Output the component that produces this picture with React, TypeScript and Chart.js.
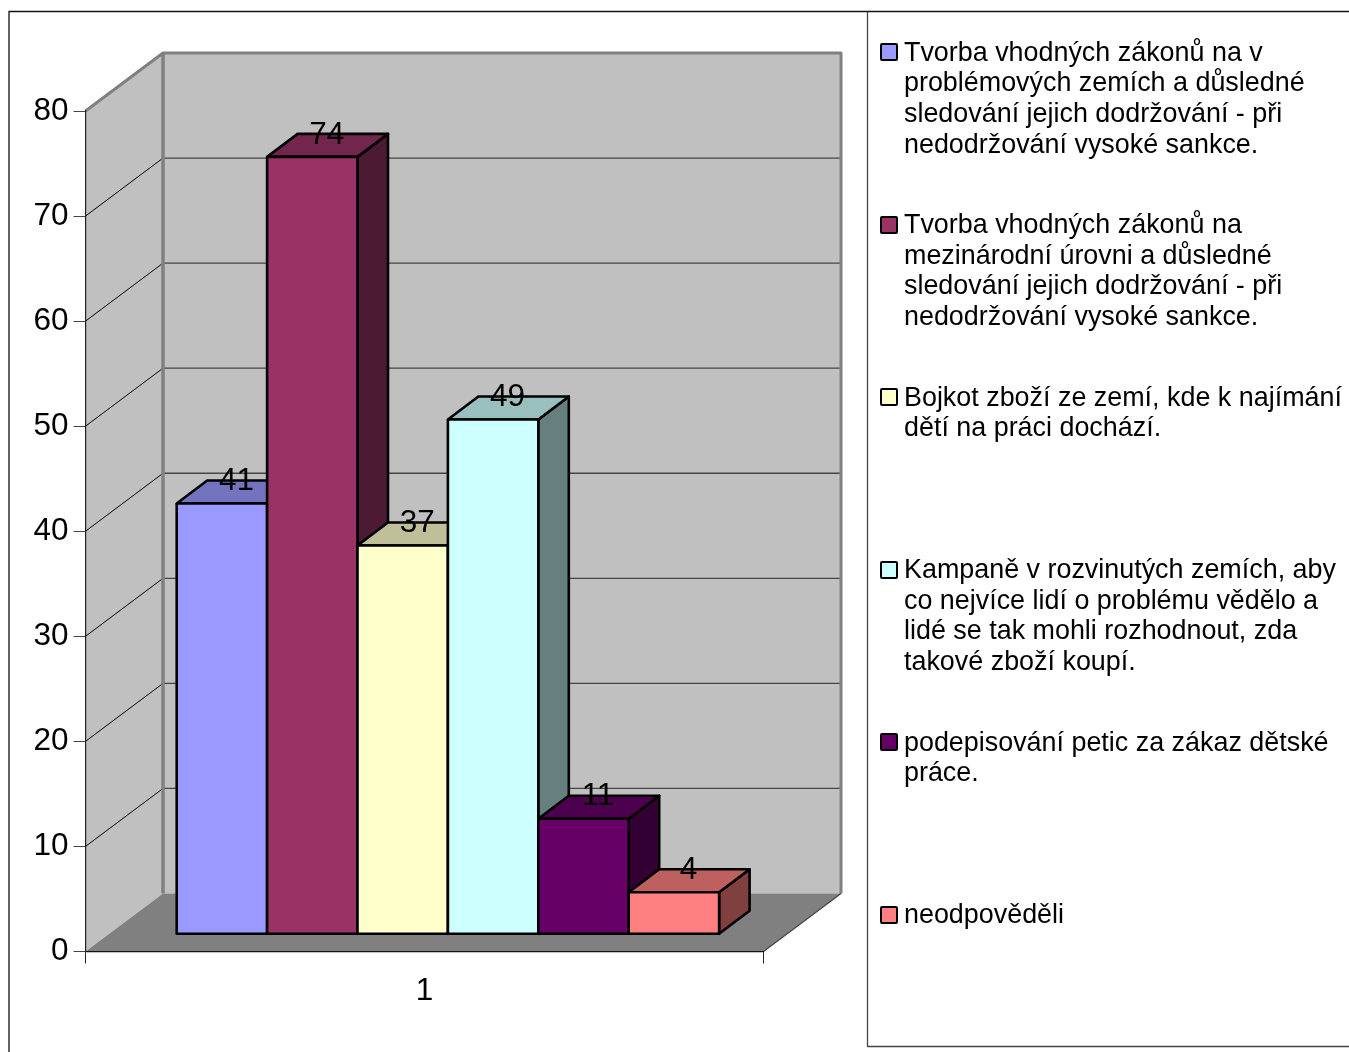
import React, { useEffect, useRef } from "react";
import { Chart, registerables } from "chart.js";

Chart.register(...registerables);

const categories = ["1"];
const seriesLines: string[][] = [
  ["Tvorba vhodných zákonů na v", "problémových zemích a důsledné", "sledování jejich dodržování - při", "nedodržování vysoké sankce."],
  ["Tvorba vhodných zákonů na", "mezinárodní úrovni a důsledné", "sledování jejich dodržování - při", "nedodržování vysoké sankce."],
  ["Bojkot zboží ze zemí, kde k najímání", "dětí na práci dochází."],
  ["Kampaně v rozvinutých zemích, aby", "co nejvíce lidí o problému vědělo a", "lidé se tak mohli rozhodnout, zda", "takové zboží koupí."],
  ["podepisování petic za zákaz dětské", "práce."],
  ["neodpověděli"],
];
const seriesValues = [41, 74, 37, 49, 11, 4];
const frontColors = ["#9999ff", "#993366", "#ffffcc", "#ccffff", "#660066", "#ff8080"];
const topColors = ["#7373bf", "#73264d", "#bfbf99", "#99bfbf", "#4d004d", "#bf6060"];
const sideColors = ["#4d4d80", "#4d1a33", "#808066", "#668080", "#330033", "#804040"];

const FONT = "'Liberation Sans', Arial, sans-serif";
const WALL = { dx: 77.5, dy: -58 };
const BAR_SHIFT = { dx: 23.4, dy: -17.2 };
const BAR_DEPTH = { dx: 30.5, dy: -23 };

const poly = (ctx: CanvasRenderingContext2D, pts: number[][], fill: string | null, stroke: string | null, lw = 1) => {
  ctx.beginPath();
  pts.forEach((p, i) => (i ? ctx.lineTo(p[0], p[1]) : ctx.moveTo(p[0], p[1])));
  if (fill) {
    ctx.closePath();
    ctx.fillStyle = fill;
    ctx.fill();
  }
  if (stroke) {
    ctx.strokeStyle = stroke;
    ctx.lineWidth = lw;
    ctx.lineJoin = "round";
    ctx.stroke();
  }
};

const framePlugin = {
  id: "frame3d",
  beforeDraw(chart: any) {
    const { ctx, scales } = chart;
    const y = scales.y;
    const x = scales.x;
    const l = x.left, r = x.right, b = y.getPixelForValue(0), t = y.getPixelForValue(80);
    const { dx, dy } = WALL;
    ctx.save();
    // outer frame
    poly(ctx, [[9, 1052], [9, 11.5], [1349, 11.5]], null, "#111111", 1.3);
    poly(ctx, [[867.5, 11.5], [867.5, 1046.5], [1349, 1046.5]], null, "#444444", 1.3);
    // walls
    poly(ctx, [[l, b], [l, t], [l + dx, t + dy], [l + dx, b + dy]], "#c0c0c0", null);
    poly(ctx, [[l + dx, b + dy], [l + dx, t + dy], [r + dx, t + dy], [r + dx, b + dy]], "#c0c0c0", null);
    poly(ctx, [[l, b], [l + dx, b + dy], [r + dx, b + dy], [r, b]], "#808080", null);
    // grid lines
    y.ticks.forEach((tk: any) => {
      const py = y.getPixelForValue(tk.value);
      if (tk.value > 0 && tk.value < 80) {
        poly(ctx, [[l, py], [l + dx, py + dy]], null, "#000000", 1);
        poly(ctx, [[l + dx, py + dy], [r + dx, py + dy]], null, "#444444", 1.3);
      }
    });
    // wall edges
    poly(ctx, [[l, t], [l + dx, t + dy], [r + dx, t + dy], [r + dx, b + dy]], null, "#808080", 3);
    poly(ctx, [[l + dx, t + dy], [l + dx, b + dy]], null, "#808080", 3.5);
    poly(ctx, [[r, b], [r + dx, b + dy]], null, "#444444", 1.2);
    ctx.restore();
  },
  beforeDatasetDraw() {
    return false;
  },
  afterDatasetsDraw(chart: any) {
    const { ctx } = chart;
    ctx.save();
    ctx.translate(BAR_SHIFT.dx, BAR_SHIFT.dy);
    const { dx, dy } = BAR_DEPTH;
    const metas = seriesValues.map((_, i) => chart.getDatasetMeta(i));
    metas.forEach((meta: any, i: number) => {
      const el = meta.data[0];
      const p = el.getProps(["x", "y", "base", "width"], true);
      const a = p.x - p.width / 2, c = p.x + p.width / 2;
      poly(ctx, [[c, p.y], [c + dx, p.y + dy], [c + dx, p.base + dy], [c, p.base]], sideColors[i], "#000", 2.6);
      poly(ctx, [[a, p.y], [a + dx, p.y + dy], [c + dx, p.y + dy], [c, p.y]], topColors[i], "#000", 2.6);
      el.draw(ctx);
      poly(ctx, [[a, p.y], [c, p.y], [c, p.base], [a, p.base], [a, p.y]], null, "#000", 2.6);
    });
    ctx.fillStyle = "#000";
    ctx.font = `31.5px ${FONT}`;
    ctx.textAlign = "center";
    ctx.textBaseline = "middle";
    metas.forEach((meta: any, i: number) => {
      const p = meta.data[0].getProps(["x", "y"], true);
      ctx.fillText(String(seriesValues[i]), p.x + 14.5, p.y - 22);
    });
    ctx.restore();
  },
};

export default function App() {
  const ref = useRef<HTMLCanvasElement>(null);
  useEffect(() => {
    document.body.style.margin = "0";
    const chart = new Chart(ref.current!, {
      type: "bar",
      data: {
        labels: categories,
        datasets: seriesValues.map((v, i) => ({
          label: seriesLines[i].join(" "),
          data: [v],
          backgroundColor: frontColors[i],
          borderWidth: 0,
          categoryPercentage: 0.8,
          barPercentage: 1,
          clip: false as any,
        })),
      },
      options: {
        responsive: false,
        animation: false,
        devicePixelRatio: 1,
        layout: { padding: { left: 0, right: 585.5, top: 111, bottom: 0 } },
        plugins: { legend: { display: false }, tooltip: { enabled: false } },
        scales: {
          x: {
            afterFit: (s: any) => { s.height = 100.5; },
            grid: { drawOnChartArea: false, drawTicks: true, tickLength: 12, color: "#222222" },
            border: { color: "#111111", width: 1.2 },
            ticks: { color: "#000", font: { family: FONT, size: 31.5 }, padding: 9 },
          },
          y: {
            min: 0,
            max: 80,
            afterFit: (s: any) => { s.width = 85.5; },
            grid: { drawOnChartArea: false, drawTicks: true, tickLength: 12, color: "#444444" },
            border: { color: "#222222", width: 1.2 },
            ticks: { stepSize: 10, color: "#000", font: { family: FONT, size: 31.5 }, padding: 5 },
          },
        },
      },
      plugins: [framePlugin],
    } as any);
    return () => chart.destroy();
  }, []);

  return (
    <div style={{ position: "absolute", left: 0, top: 0, width: 1349, height: 1052, overflow: "hidden", background: "#fff" }}>
      <canvas ref={ref} width={1349} height={1052} style={{ display: "block" }} />
      {seriesLines.map((lines, i) => (
        <div key={i} style={{ position: "absolute", left: 880, top: 36.5 + i * 172.5, fontFamily: FONT, fontSize: 26.9, lineHeight: "30.67px", color: "#000" }}>
          <span style={{ position: "absolute", left: 0, top: 6.5, width: 18, height: 18, boxSizing: "border-box", border: "2.5px solid #000", borderRadius: 2, background: frontColors[i] }} />
          <div style={{ marginLeft: 24, whiteSpace: "nowrap" }}>
            {lines.map((ln, j) => (
              <div key={j}>{ln}</div>
            ))}
          </div>
        </div>
      ))}
    </div>
  );
}
